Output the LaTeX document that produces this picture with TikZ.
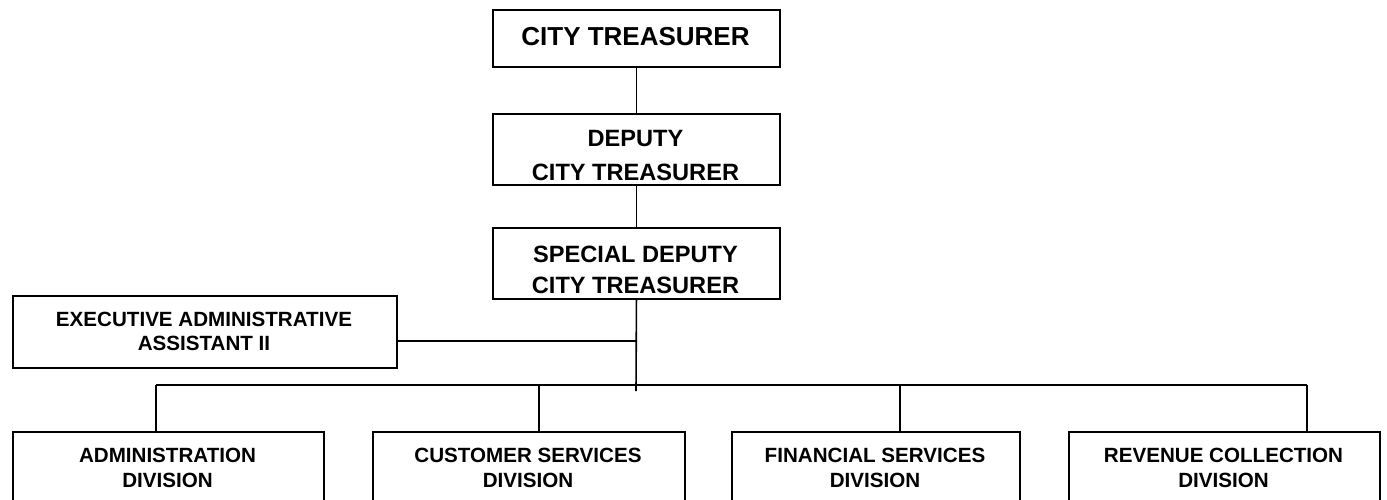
\documentclass[tikz,border=0pt]{standalone}
\usepackage{fontspec}
\setmainfont{Liberation Sans}
\begin{document}
\begin{tikzpicture}[x=1pt,y=-1pt,
  box/.style={draw=black, line width=1.9pt, fill=none, inner sep=0pt, anchor=north west},
  conn/.style={draw=black, line width=1.6pt},
  tbig/.style={font=\fontsize{26}{30}\selectfont\bfseries, anchor=base, inner sep=0pt},
  tmid/.style={font=\fontsize{23.6}{28}\selectfont\bfseries, anchor=base, inner sep=0pt},
  tsml/.style={font=\fontsize{20.6}{24}\selectfont\bfseries, anchor=base, inner sep=0pt}]
\clip (0,0) rectangle (1387,499);
\fill[white] (0,0) rectangle (1387,499);
% boxes
\node[box, minimum width=287pt, minimum height=57pt] (ct) at (492,9) {};
\node[box, minimum width=287pt, minimum height=71pt] (dct) at (492,113) {};
\node[box, minimum width=287pt, minimum height=71pt] (sdct) at (492,227) {};
\node[box, minimum width=384pt, minimum height=72pt] (ea) at (12,295) {};
\node[box, minimum width=311pt, minimum height=75pt] (adm) at (12,431) {};
\node[box, minimum width=312pt, minimum height=75pt] (cus) at (372,431) {};
\node[box, minimum width=288pt, minimum height=75pt] (fin) at (731,431) {};
\node[box, minimum width=311pt, minimum height=75pt] (rev) at (1068,431) {};
% texts
\node[tbig] (ctt) at (635.5,45) {CITY TREASURER};
\node[tmid] (dct1) at (635.5,146) {DEPUTY};
\node[tmid] (dct2) at (635.5,180) {CITY TREASURER};
\node[tmid] (sdct1) at (635.5,262) {SPECIAL DEPUTY};
\node[tmid] (sdct2) at (635.5,293) {CITY TREASURER};
\node[tsml] (ea1) at (204,326) {EXECUTIVE ADMINISTRATIVE};
\node[tsml] (ea2) at (204,350) {ASSISTANT II};
\node[tsml] (adm1) at (167.5,462) {ADMINISTRATION};
\node[tsml] (adm2) at (167.5,487) {DIVISION};
\node[tsml] (cus1) at (528,462) {CUSTOMER SERVICES};
\node[tsml] (cus2) at (528,487) {DIVISION};
\node[tsml] (fin1) at (875,462) {FINANCIAL SERVICES};
\node[tsml] (fin2) at (875,487) {DIVISION};
\node[tsml] (rev1) at (1223.5,462) {REVENUE COLLECTION};
\node[tsml] (rev2) at (1223.5,487) {DIVISION};
% junction coordinates
\coordinate (vend) at (636,391);
\coordinate (eaj) at (636,341);
\coordinate (busL) at (156,385);
\coordinate (busR) at (1307,385);
\coordinate (dC) at (539,385);
\coordinate (dF) at (900,385);
% connectors
\draw[conn] (ct.south) -- (dct.north);
\draw[conn] (dct.south) -- (sdct.north);
\draw[conn] (sdct.south) -- (vend);
\draw[conn] (ea.east |- eaj) -- (eaj);
\draw[conn] (busL) -- (busR);
\draw[conn] (busL) -- (busL |- adm.north);
\draw[conn] (dC) -- (dC |- cus.north);
\draw[conn] (dF) -- (dF |- fin.north);
\draw[conn] (busR) -- (busR |- rev.north);
\end{tikzpicture}
\end{document}
